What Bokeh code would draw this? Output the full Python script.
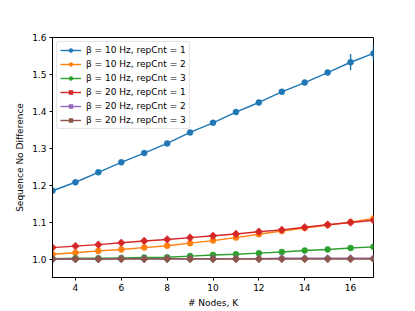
from bokeh.plotting import figure
from bokeh.models import FixedTicker, Range1d, Legend, LegendItem, ColumnDataSource, NumeralTickFormatter
from bokeh.embed import file_html
from bokeh.resources import INLINE
import math

nodes = [3, 4, 5, 6, 7, 8, 9, 10, 11, 12, 13, 14, 15, 16, 17]

b10_rep1 = [1.185, 1.208, 1.235, 1.262, 1.287, 1.313, 1.343, 1.369, 1.398, 1.424, 1.453, 1.478, 1.505, 1.533, 1.557]
b10_rep2 = [1.013, 1.017, 1.022, 1.026, 1.031, 1.036, 1.043, 1.050, 1.058, 1.067, 1.076, 1.084, 1.092, 1.100, 1.110]
b10_rep3 = [1.001, 1.002, 1.002, 1.003, 1.004, 1.005, 1.008, 1.011, 1.013, 1.016, 1.019, 1.023, 1.026, 1.030, 1.033]
b20_rep1 = [1.031, 1.035, 1.039, 1.044, 1.049, 1.053, 1.058, 1.063, 1.068, 1.074, 1.079, 1.086, 1.093, 1.099, 1.105]
b20_rep2 = [1.000, 1.000, 1.000, 1.001, 1.001, 1.001, 1.001, 1.001, 1.001, 1.001, 1.002, 1.002, 1.002, 1.002, 1.002]
b20_rep3 = [1.000, 1.000, 1.000, 1.000, 1.000, 1.000, 1.000, 1.000, 1.000, 1.000, 1.000, 1.000, 1.000, 1.000, 1.000]

err_b10_rep1 = [0.003, 0.003, 0.003, 0.004, 0.004, 0.004, 0.005, 0.005, 0.005, 0.006, 0.006, 0.006, 0.007, 0.022, 0.021]
err_b10_rep2 = [0.002, 0.002, 0.002, 0.002, 0.002, 0.003, 0.003, 0.003, 0.003, 0.003, 0.003, 0.004, 0.004, 0.004, 0.006]
err_b10_rep3 = [0.001] * 15
err_b20_rep1 = [0.003, 0.003, 0.003, 0.003, 0.003, 0.003, 0.004, 0.004, 0.004, 0.004, 0.004, 0.004, 0.005, 0.005, 0.005]
err_b20_rep2 = [0.001] * 15
err_b20_rep3 = [0.001] * 15

labels = [
    "β = 10 Hz, repCnt = 1",
    "β = 10 Hz, repCnt = 2",
    "β = 10 Hz, repCnt = 3",
    "β = 20 Hz, repCnt = 1",
    "β = 20 Hz, repCnt = 2",
    "β = 20 Hz, repCnt = 3",
]
series = [b10_rep1, b10_rep2, b10_rep3, b20_rep1, b20_rep2, b20_rep3]
errors = [err_b10_rep1, err_b10_rep2, err_b10_rep3, err_b20_rep1, err_b20_rep2, err_b20_rep3]
colors = ["#1f77b4", "#ff7f0e", "#2ca02c", "#d62728", "#9467bd", "#8c564b"]
markers = ["circle", "circle", "circle", "diamond", "diamond", "diamond"]

x_ticks = [4, 6, 8, 10, 12, 14, 16]
y_ticks = [1.0, 1.1, 1.2, 1.3, 1.4, 1.5, 1.6]

FONT = "DejaVu Sans"

p = figure(width=415, height=311, output_backend="svg", toolbar_location=None,
           x_range=Range1d(3, 17), y_range=Range1d(0.95, 1.6),
           frame_width=321, frame_height=240,
           min_border_left=52, min_border_right=42, min_border_top=37, min_border_bottom=34)
p.xgrid.visible = False
p.ygrid.visible = False
p.outline_line_color = "black"
p.outline_line_width = 1
p.outline_line_alpha = 1
p.background_fill_color = "white"
p.border_fill_color = "white"

for ax in (p.xaxis[0], p.yaxis[0]):
    ax.axis_line_color = "black"
    ax.axis_line_width = 1
    ax.major_tick_line_color = "black"
    ax.major_tick_line_width = 1
    ax.major_tick_in = 0
    ax.major_tick_out = 3
    ax.minor_tick_line_color = None
    ax.major_label_text_font = FONT
    ax.major_label_text_font_size = "9px"
    ax.major_label_text_color = "black"
    ax.axis_label_text_font = FONT
    ax.axis_label_text_font_size = "9px"
    ax.axis_label_text_font_style = "normal"
    ax.axis_label_text_color = "black"
    ax.major_label_standoff = 3
    ax.axis_label_standoff = 4

p.xaxis.ticker = FixedTicker(ticks=x_ticks)
p.yaxis.ticker = FixedTicker(ticks=y_ticks)
p.yaxis.formatter = NumeralTickFormatter(format="0.0")
p.xaxis.axis_label = "# Nodes, K"
p.yaxis.axis_label = "Sequence No Difference"

items = []
for lab, ys, es, c, m in zip(labels, series, errors, colors, markers):
    src = ColumnDataSource(dict(x=nodes, y=ys,
                                lo=[v - e for v, e in zip(ys, es)],
                                hi=[v + e for v, e in zip(ys, es)]))
    ln = p.line("x", "y", source=src, line_color=c, line_width=1.4)
    eb = p.segment("x", "lo", "x", "hi", source=src, line_color=c, line_width=1.4)
    if m == "circle":
        sc = p.scatter("x", "y", source=src, marker="circle", size=6,
                       fill_color=c, line_color=c, line_width=0.5)
    else:
        sc = p.scatter("x", "y", source=src, marker="square", size=5.5, angle=math.pi / 4,
                       fill_color=c, line_color=c, line_width=0.5)
    items.append(LegendItem(label=lab, renderers=[ln, sc]))

legend = Legend(items=items, location="top_left")
legend.label_text_font = FONT
legend.label_text_font_size = "9px"
legend.label_text_color = "black"
legend.glyph_width = 21
legend.glyph_height = 10
legend.label_height = 10
legend.label_standoff = 5
legend.spacing = 4
legend.padding = 3
legend.margin = 4
legend.border_line_color = "#cccccc"
legend.border_line_width = 1
legend.background_fill_alpha = 0.8
legend.border_radius = 3
p.add_layout(legend)

open("out.html", "w").write(file_html(p, INLINE))
